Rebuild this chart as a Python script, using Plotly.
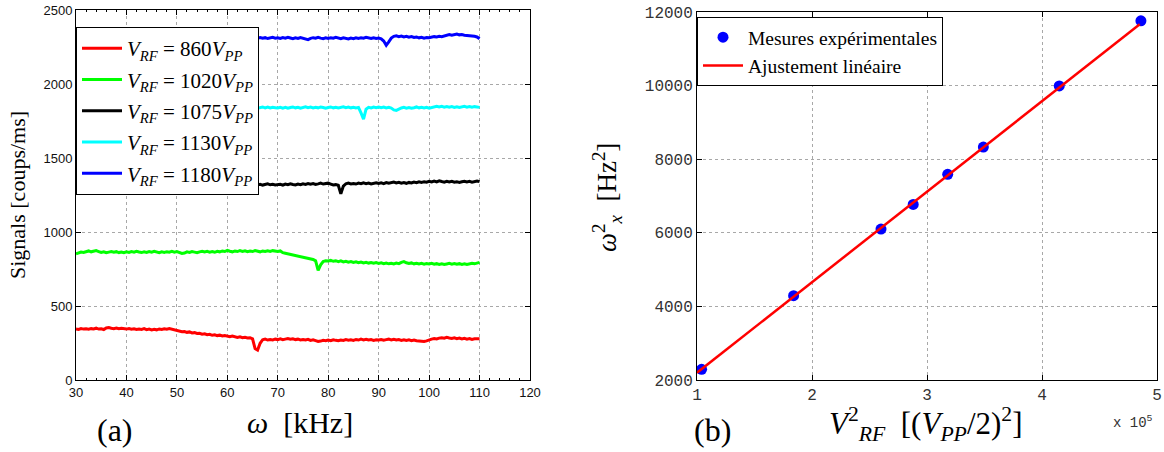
import plotly.graph_objects as go

# ---------------- DATA ----------------
freq_khz = [30 + 0.5 * i for i in range(161)]

sig_860 = [
    345, 342, 348, 344, 346, 343, 347, 345, 350, 344, 346, 341, 352, 355, 350, 347, 351, 346, 349, 345,
    344, 348, 343, 346, 341, 345, 342, 347, 340, 344, 338, 343, 339, 345, 341, 346, 343, 348, 344, 338,
    332, 330, 326, 328, 322, 325, 318, 320, 314, 316, 310, 312, 306, 309, 302, 305, 300, 303, 297, 301,
    295, 292, 297, 290, 288, 292, 286, 289, 284, 286, 278, 212, 202, 248, 272, 276, 270, 274, 271, 276,
    273, 278, 272, 276, 280, 275, 278, 273, 276, 271, 274, 270, 275, 268, 272, 266, 260, 263, 268, 265,
    270, 266, 272, 268, 265, 270, 267, 273, 269, 272, 268, 274, 270, 276, 271, 275, 270, 273, 268, 272,
    270, 274, 269, 273, 276, 271, 275, 270, 273, 268, 272, 267, 271, 266, 270, 265, 262, 258, 260, 264,
    272, 276, 280, 277, 283, 286, 282, 288, 284, 281, 285, 279, 283, 277, 281, 276, 280, 274, 279, 276,
    278,
]
sig_1020 = [
    852, 858, 864, 862, 868, 872, 866, 870, 874, 868, 862, 866, 860, 864, 868, 863, 867, 861, 865, 860,
    866, 862, 868, 864, 870, 865, 861, 866, 862, 868, 864, 869, 865, 860, 866, 862, 867, 863, 869, 864,
    868, 862, 855, 858, 866, 862, 868, 864, 860, 866, 870, 865, 869, 864, 868, 863, 870, 866, 872, 868,
    876, 870, 866, 872, 868, 874, 869, 873, 867, 872, 868, 874, 870, 866, 872, 868, 873, 869, 874, 870,
    868, 872, 860, 856, 852, 850, 846, 842, 840, 835, 828, 826, 820, 818, 814, 805, 740, 778, 800, 806,
    804, 808, 802, 806, 800, 805, 798, 802, 796, 800, 794, 798, 792, 797, 791, 795, 790, 794, 789, 793,
    788, 792, 786, 790, 785, 789, 784, 790, 786, 795, 800, 792, 787, 791, 785, 789, 784, 788, 783, 787,
    784, 788, 782, 786, 781, 785, 780, 784, 788, 783, 787, 782, 786, 781, 785, 780, 784, 789, 785, 792,
    795,
]
sig_1075 = [
    1318, 1322, 1316, 1320, 1314, 1319, 1323, 1317, 1321, 1315, 1320, 1324, 1318, 1322, 1316, 1321, 1317, 1323, 1319, 1315,
    1320, 1316, 1322, 1318, 1324, 1319, 1315, 1321, 1317, 1323, 1318, 1322, 1316, 1320, 1325, 1319, 1323, 1317, 1321, 1316,
    1321, 1317, 1323, 1319, 1315, 1320, 1324, 1318, 1322, 1316, 1321, 1325, 1319, 1323, 1317, 1322, 1318, 1324, 1320, 1316,
    1319, 1323, 1317, 1321, 1316, 1322, 1318, 1324, 1319, 1315, 1320, 1324, 1318, 1322, 1317, 1321, 1325, 1319, 1323, 1318,
    1318, 1322, 1316, 1324, 1320, 1326, 1321, 1318, 1324, 1320, 1326, 1322, 1328, 1323, 1327, 1321, 1325, 1330, 1324, 1328,
    1330, 1324, 1318, 1320, 1316, 1258, 1310, 1326, 1330, 1325, 1328, 1324, 1330, 1326, 1332, 1327, 1331, 1325, 1329, 1333,
    1328, 1332, 1327, 1334, 1329, 1333, 1338, 1332, 1336, 1330, 1334, 1329, 1335, 1331, 1337, 1333, 1339, 1335, 1340, 1336,
    1342, 1338, 1344, 1339, 1346, 1341, 1337, 1343, 1338, 1342, 1336, 1340, 1335, 1339, 1343, 1338, 1342, 1337, 1341, 1345,
    1340,
]
sig_1130 = [
    1840, 1844, 1838, 1842, 1837, 1843, 1839, 1845, 1840, 1836, 1841, 1845, 1839, 1843, 1838, 1842, 1846, 1840, 1844, 1839,
    1842, 1838, 1844, 1840, 1836, 1841, 1845, 1839, 1843, 1837, 1842, 1846, 1840, 1844, 1838, 1843, 1839, 1845, 1841, 1837,
    1843, 1839, 1845, 1840, 1836, 1842, 1838, 1844, 1839, 1843, 1837, 1841, 1846, 1840, 1844, 1838, 1842, 1836, 1841, 1845,
    1839, 1843, 1838, 1844, 1840, 1836, 1842, 1846, 1840, 1844, 1839, 1843, 1837, 1841, 1845, 1839, 1844, 1838, 1842, 1840,
    1838, 1843, 1837, 1842, 1836, 1841, 1845, 1839, 1843, 1837, 1842, 1846, 1840, 1844, 1838, 1843, 1839, 1845, 1841, 1836,
    1841, 1845, 1839, 1843, 1838, 1842, 1846, 1840, 1844, 1839, 1843, 1838, 1842, 1805, 1762, 1830, 1842, 1838, 1844, 1840,
    1845, 1840, 1844, 1838, 1842, 1837, 1825, 1822, 1832, 1838, 1842, 1837, 1841, 1836, 1840, 1845, 1839, 1843, 1838, 1842,
    1836, 1840, 1846, 1850, 1845, 1849, 1844, 1848, 1843, 1847, 1842, 1846, 1841, 1845, 1849, 1844, 1848, 1843, 1847, 1845,
    1842,
]
sig_1180 = [
    2312, 2308, 2314, 2310, 2306, 2311, 2315, 2309, 2313, 2307, 2312, 2316, 2310, 2314, 2308, 2313, 2309, 2315, 2311, 2307,
    2313, 2309, 2315, 2310, 2306, 2312, 2316, 2310, 2314, 2308, 2312, 2307, 2311, 2315, 2309, 2313, 2308, 2314, 2310, 2306,
    2311, 2315, 2309, 2313, 2307, 2312, 2316, 2310, 2314, 2308, 2313, 2309, 2315, 2311, 2307, 2312, 2308, 2314, 2310, 2316,
    2310, 2314, 2308, 2312, 2307, 2313, 2309, 2315, 2311, 2306, 2312, 2316, 2310, 2314, 2309, 2313, 2307, 2311, 2315, 2310,
    2312, 2308, 2314, 2310, 2316, 2311, 2306, 2312, 2308, 2314, 2310, 2304, 2300, 2308, 2313, 2309, 2315, 2310, 2306, 2312,
    2308, 2313, 2309, 2315, 2311, 2306, 2312, 2308, 2304, 2310, 2306, 2312, 2308, 2313, 2309, 2315, 2311, 2307, 2312, 2308,
    2310, 2305, 2290, 2262, 2285, 2310, 2322, 2326, 2320, 2324, 2318, 2322, 2316, 2320, 2314, 2318, 2312, 2316, 2310, 2314,
    2312, 2316, 2320, 2318, 2322, 2320, 2326, 2330, 2334, 2330, 2335, 2338, 2332, 2334, 2330, 2328, 2330, 2326, 2322, 2318,
    2306,
]
series_labels = ["860", "1020", "1075", "1130", "1180"]
series_colors = ["#ff0000", "#00ff00", "#000000", "#00ffff", "#0000ff"]

# right panel: V_RF^2 in units of 1e5 (V_PP/2)^2, omega_x^2 in Hz^2
vrf2_e5 = [1.04, 1.84, 2.60, 2.88, 3.18, 3.49, 4.15, 4.86]
omega2 = [2290, 4290, 6100, 6770, 7590, 8330, 9990, 11760]
fit_x_e5 = [1.0, 4.85]
fit_y = [2198, 11666]

x_ticks_a = [30, 40, 50, 60, 70, 80, 90, 100, 110, 120]
y_ticks_a = [0, 500, 1000, 1500, 2000, 2500]
x_ticks_b = [1, 2, 3, 4, 5]
y_ticks_b = [2000, 4000, 6000, 8000, 10000, 12000]

# ---------------- FIGURE ----------------
W, H = 1164, 452
def px_x(p):
    return p / W
def px_y(p):
    return 1 - p / H

SERIF = "Liberation Serif"
MONO = "Liberation Mono"
SANS = "Liberation Sans"

fig = go.Figure()
all_series = [sig_860, sig_1020, sig_1075, sig_1130, sig_1180]
for lab, col, ys in zip(series_labels, series_colors, all_series):
    fig.add_trace(go.Scatter(
        x=freq_khz, y=ys, mode="lines",
        line=dict(color=col, width=3),
        name=f"<i>V</i><sub><i>RF</i></sub>&nbsp;=&nbsp;{lab}<i>V</i><sub><i>PP</i></sub>",
        xaxis="x", yaxis="y", legend="legend", legendgroup=lab,
    ))

fig.add_trace(go.Scatter(
    x=vrf2_e5, y=omega2, mode="markers",
    marker=dict(color="#0000ff", size=11),
    name="Mesures expérimentales", xaxis="x2", yaxis="y2", legend="legend2",
))
fig.add_trace(go.Scatter(
    x=fit_x_e5, y=fit_y, mode="lines",
    line=dict(color="#ff0000", width=2.5),
    name="Ajustement linéaire", xaxis="x2", yaxis="y2", legend="legend2",
))

axis_common = dict(
    showline=True, linecolor="black", linewidth=1, mirror="ticks",
    ticks="inside", ticklen=5, tickcolor="black",
    showgrid=True, gridcolor="#a8a8a8", griddash="dot", gridwidth=1,
    zeroline=False, automargin=False,
)

fig.update_layout(
    width=W, height=H,
    margin=dict(l=0, r=0, t=0, b=0, autoexpand=False),
    paper_bgcolor="white", plot_bgcolor="white",
    font=dict(color="black"),
    xaxis=dict(domain=[px_x(76), px_x(530)], range=[30, 120], tickvals=x_ticks_a,
               tickfont=dict(family=SANS, size=13, color="#111"),
               minor=dict(ticks="inside", ticklen=2, dtick=2, tickcolor="black", showgrid=False),
               anchor="y", **axis_common),
    yaxis=dict(domain=[px_y(380), px_y(10)], range=[0, 2500], tickvals=y_ticks_a,
               tickfont=dict(family=SANS, size=13, color="#111"),
               anchor="x", **axis_common),
    xaxis2=dict(domain=[px_x(697), px_x(1157)], range=[1, 5], tickvals=x_ticks_b,
                tickformat="d",
                tickfont=dict(family=MONO, size=16, color="#333"),
                anchor="y2", **axis_common),
    yaxis2=dict(domain=[px_y(380), px_y(12)], range=[2000, 12000], tickvals=y_ticks_b,
                tickformat="d",
                tickfont=dict(family=MONO, size=16, color="#333"),
                anchor="x2", **axis_common),
    legend=dict(x=px_x(76), y=px_y(27), xanchor="left", yanchor="top",
                bgcolor="white", bordercolor="black", borderwidth=1,
                font=dict(family=SERIF, size=21, color="black"),
                tracegroupgap=1, itemwidth=40),
    legend2=dict(x=px_x(697), y=px_y(17), xanchor="left", yanchor="top",
                 bgcolor="white", bordercolor="black", borderwidth=1,
                 font=dict(family=SERIF, size=19.5, color="black"),
                 itemwidth=40),
    showlegend=True,
)

ann = [
    dict(text="Signals [coups/ms]", x=px_x(18), y=px_y(195), textangle=-90,
         font=dict(family=SERIF, size=22)),
    dict(text="<i>ω</i>  [kHz]", x=px_x(300), y=px_y(422),
         font=dict(family=SERIF, size=30)),
    dict(text="(a)", x=px_x(115), y=px_y(430), font=dict(family=SERIF, size=32)),
    dict(text="<i>ω</i><sup>2</sup><sub><i>x</i></sub>  [Hz<sup>2</sup>]", x=px_x(607), y=px_y(198),
         textangle=-90, font=dict(family=SERIF, size=27)),
    dict(text="<i>V</i><sup>2</sup><sub><i>RF</i></sub>  [(<i>V</i><sub><i>PP</i></sub>/2)<sup>2</sup>]",
         x=px_x(925), y=px_y(424), font=dict(family=SERIF, size=31)),
    dict(text="(b)", x=px_x(712), y=px_y(430), font=dict(family=SERIF, size=32)),
    dict(text="x 10<sup>5</sup>", x=px_x(1133), y=px_y(422),
         font=dict(family=MONO, size=14, color="#333")),
]
for a in ann:
    a.update(xref="paper", yref="paper", showarrow=False, xanchor="center", yanchor="middle")
fig.update_layout(annotations=ann)

fig.write_html("out.html", config={"displayModeBar": False},
               post_script="document.body.style.margin='0px';")
